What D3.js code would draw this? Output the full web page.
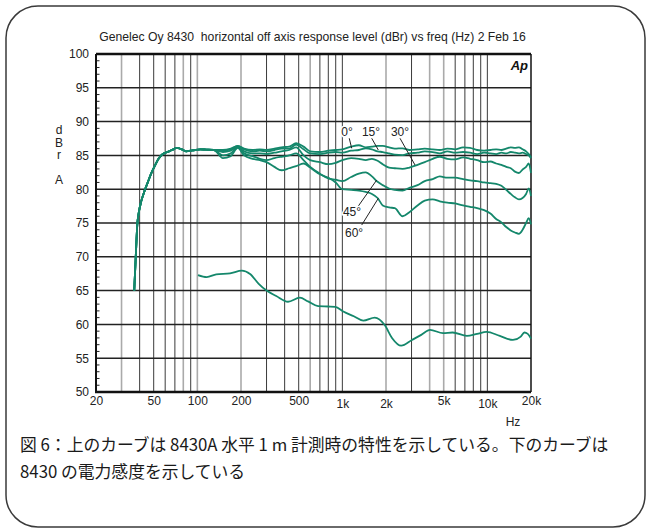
<!DOCTYPE html>
<html><head><meta charset="utf-8">
<script src="https://cdn.jsdelivr.net/npm/d3@7"></script>
<style>body{margin:0;background:#fff}svg{display:block}</style>
</head><body><svg id="c" width="651" height="531"></svg>
<script>
const title = "Genelec Oy 8430  horizontal off axis response level (dBr) vs freq (Hz) 2 Feb 16";
const yTicks = [50,55,60,65,70,75,80,85,90,95,100];
const yMinor = d3.range(51,100).filter(v => v % 5 !== 0);
const xTickValues = [20,50,100,200,500,1000,2000,5000,10000,20000];
const xTickLabels = ["20","50","100","200","500","1k","2k","5k","10k","20k"];
const xTickLowered = [1000,2000,10000];
const gridFreqs = [30,40,50,60,70,80,90,100,200,300,400,500,600,700,800,900,1000,2000,3000,4000,5000,6000,7000,8000,9000,10000];
const grayFreqs = [30,80,100,200,600,2000,4000,5000];
const yLabelLetters = ["d","B","r","","A"];
const captionLines = ["図 6：上のカーブは 8430A 水平 1 m 計測時の特性を示している。下のカーブは","8430 の電力感度を示している"];

// shared low-frequency part of the five response curves
const freqLo = [36.7,37.6,38.6,39.5,41,43,45.5,48,51,54,57,62,67,72,78,84,90,96,105,115];
const levelLo = [65,70,75,76.6,78.2,79.6,81.0,82.3,83.5,84.5,85.1,85.5,85.8,86.1,85.9,85.6,85.7,85.8,85.9,85.85];

const freqHi = [130,150,170,190,210,240,270,300,340,380,430,480,540,600,700,800,900,1000,1150,1300,1450,1600,1750,1900,2100,2300,2600,2900,3300,3700,4200,4700,5300,6000,6800,7600,8500,9500,10500,11500,12500,13500,14500,15500,16500,17500,18500,19300,20000];
const level0  = [85.8,85.8,86.0,86.4,86.0,85.8,85.9,85.8,86.0,86.2,86.3,86.8,86.3,85.6,85.5,85.7,85.8,85.9,86.3,86.5,86.2,86.3,86.4,86.4,86.2,86.0,86.05,85.8,85.9,86.0,85.9,85.8,86.0,85.9,86.2,86.1,85.8,85.7,85.8,85.9,85.8,86.0,86.2,86.1,86.2,85.9,85.6,85.2,84.7];
const level15 = [85.8,85.7,85.9,86.4,85.9,85.6,85.7,85.6,85.8,86.0,86.0,86.6,85.9,85.3,85.2,85.4,85.5,85.4,85.7,85.8,86.05,85.9,85.6,85.5,85.3,85.1,85.05,85.3,85.4,85.6,85.5,85.3,85.6,85.4,85.5,85.4,85.2,85.4,85.3,85.2,85.4,85.3,85.5,85.4,85.3,85.4,85.2,85.0,84.6];
const level30 = [85.8,85.5,85.7,86.3,85.6,85.3,85.3,85.2,85.4,85.6,85.8,86.2,85.0,84.3,84.0,83.7,83.9,84.3,84.6,84.5,84.3,84.5,84.2,83.7,83.2,83.1,83.0,83.2,83.6,84.0,84.5,84.8,84.5,84.4,84.7,84.5,84.3,84.0,84.1,83.8,83.6,83.3,83.1,82.6,82.4,82.9,83.3,83.8,82.4];
const level45 = [85.8,85.0,85.3,86.2,85.3,84.9,84.5,84.3,84.6,84.8,85.0,85.3,84.3,83.3,82.3,81.6,81.4,81.2,81.8,82.3,82.5,81.9,81.1,80.6,80.1,79.9,79.8,80.2,80.6,81.2,81.5,81.9,81.7,81.7,81.5,81.3,81.2,81.0,80.9,80.8,80.5,79.9,79.3,78.8,78.5,78.7,79.3,80.1,79.0];
const level60 = [85.8,84.6,84.9,86.1,85.0,84.5,84.3,84.0,83.3,82.8,83.1,83.4,83.8,83.2,82.2,81.7,81.0,80.0,79.9,79.8,79.6,79.3,78.7,77.6,77.3,77.2,76.0,76.6,77.6,78.3,78.5,78.2,78.0,77.9,77.6,77.4,77.2,76.9,76.4,75.6,75.1,74.4,73.9,73.6,73.4,74.0,75.0,75.7,74.8];

// power response curve
const powerFreq  = [101,116,135,168,203,231,265,300,350,422,509,580,680,800,894,1015,1200,1394,1673,1960,2200,2546,3020,3500,4025,4945,5760,7225,8500,9877,12186,15020,17000,18000,19000,20000];
const powerLevel = [67.3,67.0,67.4,67.55,67.95,67.45,66.0,65.0,64.2,63.35,63.95,63.4,62.7,62.65,62.6,61.9,61.2,60.55,61.0,59.9,58.0,56.85,57.7,58.45,59.2,58.7,58.8,58.3,58.6,58.9,58.3,57.7,58.2,58.8,58.6,57.9];

// angle annotations (in data units)
const angleLabels = ["0°","15°","30°","45°","60°"];
const labelFreq  = [1077,1576,2498,1166,1204];
const labelLevel = [88.46,88.46,88.46,76.6,73.5];
const leaderFromFreq  = [1116,1594,2498,1288,1360];
const leaderFromLevel = [87.53,87.53,87.53,77.5,74.7];
const leaderToFreq  = [1160,1770,3170,1726,1770];
const leaderToLevel = [86.05,85.8,83.58,81.36,78.65];

const svg = d3.select("#c");
const FONT = "'Liberation Sans', Arial, sans-serif";
const x = d3.scaleLog().domain([20,20000]).range([96,531]);
const y = d3.scaleLinear().domain([50,100]).range([392,54]);
const teal = "#14876b";

// frame
svg.append("rect").attr("x",6).attr("y",6).attr("width",639).attr("height",521)
  .attr("rx",32).attr("ry",32).attr("fill","none").attr("stroke","#3a3a3a").attr("stroke-width",1.5);

// title
svg.append("text").attr("x",312.5).attr("y",41).attr("text-anchor","middle")
  .attr("font-family",FONT).attr("font-size",12.2).attr("fill","#222").style("white-space","pre").text(title);

// vertical gridlines
svg.append("g").selectAll("line").data(gridFreqs).join("line")
  .attr("x1",d=>x(d)).attr("x2",d=>x(d)).attr("y1",y(100)).attr("y2",y(50))
  .attr("stroke",d=>grayFreqs.includes(d)?"#aaaaaa":"#3a3a3a")
  .attr("stroke-width",d=>grayFreqs.includes(d)?1.6:1);

// horizontal gridlines
svg.append("g").selectAll("line").data(yTicks.filter(v=>v>50&&v<100)).join("line")
  .attr("x1",x(20)).attr("x2",x(20000)).attr("y1",d=>y(d)).attr("y2",d=>y(d))
  .attr("stroke","#222").attr("stroke-width",1.5);

// minor ticks
svg.append("g").selectAll("line").data(yMinor).join("line")
  .attr("x1",x(20)).attr("x2",x(20)+3.5).attr("y1",d=>y(d)).attr("y2",d=>y(d))
  .attr("stroke","#222").attr("stroke-width",1);

// borders
svg.append("line").attr("x1",x(20)).attr("x2",x(20000)).attr("y1",y(100)).attr("y2",y(100)).attr("stroke","#111").attr("stroke-width",2.5);
svg.append("line").attr("x1",x(20)-1).attr("x2",x(20000)).attr("y1",y(50)).attr("y2",y(50)).attr("stroke","#111").attr("stroke-width",2.5);
svg.append("line").attr("x1",x(20)).attr("x2",x(20)).attr("y1",y(100)).attr("y2",y(50)).attr("stroke","#111").attr("stroke-width",2);
svg.append("line").attr("x1",x(20000)).attr("x2",x(20000)).attr("y1",y(100)).attr("y2",y(50)).attr("stroke","#111").attr("stroke-width",1.5);

// axes labels
const yAxis = svg.append("g").attr("transform",`translate(${x(20)},0)`)
  .call(d3.axisLeft(y).tickValues(yTicks).tickSize(0).tickPadding(7));
yAxis.select(".domain").remove();
yAxis.selectAll("text").attr("font-family",FONT).attr("font-size",12).attr("fill","#222");

const xAxis = svg.append("g").attr("transform",`translate(0,${y(50)})`)
  .call(d3.axisBottom(x).tickValues(xTickValues).tickFormat((d,i)=>xTickLabels[i]).tickSize(0).tickPadding(4.5));
xAxis.select(".domain").remove();
xAxis.selectAll("text").attr("font-family",FONT).attr("font-size",12).attr("fill","#222")
  .attr("transform",d=>xTickLowered.includes(d)?"translate(0,2.5)":null);

svg.append("text").attr("x",513).attr("y",426).attr("text-anchor","middle")
  .attr("font-family",FONT).attr("font-size",12).attr("fill","#222").text("Hz");

svg.append("g").selectAll("text").data(yLabelLetters).join("text")
  .attr("x",59).attr("y",(d,i)=>134+i*12.5).attr("text-anchor","middle")
  .attr("font-family",FONT).attr("font-size",12).attr("fill","#222").text(d=>d);

// Ap logo
svg.append("text").attr("x",528).attr("y",69.5).attr("text-anchor","end")
  .attr("font-family",FONT).attr("font-size",13).attr("font-weight","bold").attr("font-style","italic")
  .attr("fill","#111").text("Ap");

// curves
const line = d3.line().x(d=>x(d[0])).y(d=>y(d[1])).curve(d3.curveMonotoneX);
const respLevels = [level0,level15,level30,level45,level60];
respLevels.forEach(lv=>{
  const pts = freqLo.map((f,i)=>[f,levelLo[i]]).concat(freqHi.map((f,i)=>[f,lv[i]]));
  svg.append("path").attr("d",line(pts)).attr("fill","none").attr("stroke",teal).attr("stroke-width",1.8);
});
svg.append("path").attr("d",line(powerFreq.map((f,i)=>[f,powerLevel[i]])))
  .attr("fill","none").attr("stroke",teal).attr("stroke-width",1.8);

// annotations
svg.append("g").selectAll("line").data(angleLabels).join("line")
  .attr("x1",(d,i)=>x(leaderFromFreq[i])).attr("y1",(d,i)=>y(leaderFromLevel[i]))
  .attr("x2",(d,i)=>x(leaderToFreq[i])).attr("y2",(d,i)=>y(leaderToLevel[i]))
  .attr("stroke","#222").attr("stroke-width",1);
svg.append("g").selectAll("text").data(angleLabels).join("text")
  .attr("x",(d,i)=>x(labelFreq[i])).attr("y",(d,i)=>y(labelLevel[i])).attr("dy","0.35em")
  .attr("text-anchor","middle").attr("font-family",FONT).attr("font-size",12).attr("fill","#222")
  .attr("stroke","#fff").attr("stroke-width",3).attr("paint-order","stroke").text(d=>d);

// caption
svg.append("g").selectAll("text").data(captionLines).join("text")
  .attr("x",20).attr("y",(d,i)=>451+i*27)
  .attr("font-family","'Noto Sans CJK JP', sans-serif").attr("font-size",16.8).attr("fill","#1a1a1a")
  .text(d=>d);
</script></body></html>
